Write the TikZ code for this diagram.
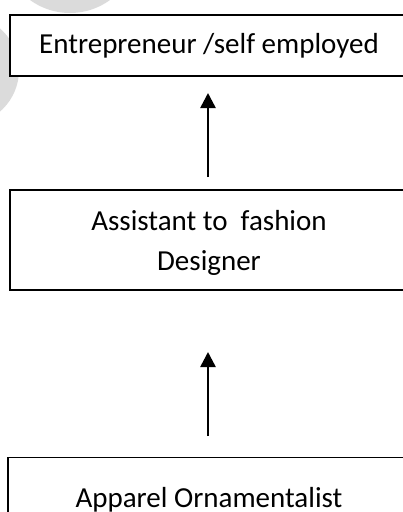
\documentclass[tikz,border=0pt]{standalone}
\usepackage{fontspec}
\setmainfont{Carlito}
\usetikzlibrary{arrows.meta}
\begin{document}
\begin{tikzpicture}[x=1pt,y=1pt,
  box/.style={draw=black, fill=white, line width=1.8pt, inner sep=0pt, outer sep=0pt,
    rectangle, font=\fontsize{29}{40}\selectfont, align=center},
  arr/.style={line width=2.5pt, -{Triangle[length=15pt,width=15pt]}},
  wm/.style={fill=black!14}]
\useasboundingbox (0,0) rectangle (403,-512);
\begin{scope}
\clip (0,0) rectangle (403,-512);
\fill[wm] (70,55) circle (68);
\fill[wm] (-36,-70) circle (55);
\node[box, minimum width=398pt, minimum height=61pt, text height=20pt, text depth=5pt]
  (b1) at (209,-45.5) {Entrepreneur /self employed};
\node[box, minimum width=398pt, minimum height=100pt, text height=65pt, text depth=5pt]
  (b2) at (209,-240) {Assistant to\ \ fashion\\Designer};
\node[box, minimum width=402pt, minimum height=85pt, text height=20pt, text depth=5pt]
  (b3) at (209,-500) {Apparel Ornamentalist};
\draw[arr, shorten <=13pt, shorten >=17pt] ([xshift=-1pt]b2.north) -- ([xshift=-1pt]b1.south);
\draw[arr, shorten <=21.5pt, shorten >=62pt] ([xshift=-1pt]b3.north) -- ([xshift=-1pt]b2.south);
\end{scope}
\end{tikzpicture}
\end{document}
